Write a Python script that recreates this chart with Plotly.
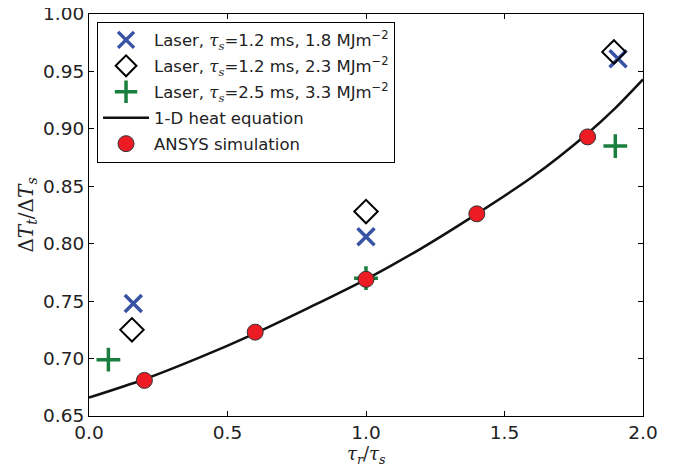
import plotly.graph_objects as go

# ---- data ----
curve_x = [0.0, 0.2, 0.4, 0.6, 0.8, 1.0, 1.2, 1.4, 1.6, 1.8, 1.9, 2.0]
curve_y = [0.666, 0.682, 0.701, 0.722, 0.745, 0.769, 0.796, 0.826, 0.858, 0.896, 0.918, 0.943]

ansys_x = [0.2, 0.6, 1.0, 1.4, 1.8]
ansys_y = [0.681, 0.723, 0.769, 0.826, 0.893]

laser18_x = [0.16, 1.0, 1.91]
laser18_y = [0.748, 0.806, 0.961]

laser23_x = [0.155, 1.0, 1.895]
laser23_y = [0.725, 0.828, 0.967]

laser33_x = [0.07, 1.0, 1.90]
laser33_y = [0.699, 0.770, 0.885]

x_ticks = [0.0, 0.5, 1.0, 1.5, 2.0]
y_ticks = [0.65, 0.70, 0.75, 0.80, 0.85, 0.90, 0.95, 1.00]

BLUE = "#3953a4"
GREEN = "#1a7f3e"
RED = "#ed1c24"

tau = '<span style="font-family:DejaVu Serif"><i>τ</i></span>'
sub_s = '<sub><span style="font-family:DejaVu Serif"><i>s</i></span></sub>'

fig = go.Figure()
fig.add_trace(go.Scatter(
    x=laser18_x, y=laser18_y, mode="markers",
    name=f"Laser, {tau}{sub_s}=1.2 ms, 1.8 MJm<sup>−2</sup>",
    marker=dict(symbol="x-thin", size=17, line=dict(color=BLUE, width=3.5), color=BLUE),
    legendgroup="a"))
fig.add_trace(go.Scatter(
    x=laser23_x, y=laser23_y, mode="markers",
    name=f"Laser, {tau}{sub_s}=1.2 ms, 2.3 MJm<sup>−2</sup>",
    marker=dict(symbol="diamond-open", size=18, line=dict(color="black", width=2), color="black"),
    legendgroup="b"))
fig.add_trace(go.Scatter(
    x=laser33_x, y=laser33_y, mode="markers",
    name=f"Laser, {tau}{sub_s}=2.5 ms, 3.3 MJm<sup>−2</sup>",
    marker=dict(symbol="cross-thin", size=17, line=dict(color=GREEN, width=3.5), color=GREEN),
    legendgroup="c"))
fig.add_trace(go.Scatter(
    x=curve_x, y=curve_y, mode="lines", name="1-D heat equation",
    line=dict(color="#111111", width=2.5, shape="spline", smoothing=0.8),
    legendgroup="d"))
fig.add_trace(go.Scatter(
    x=ansys_x, y=ansys_y, mode="markers", name="ANSYS simulation",
    marker=dict(symbol="circle", size=16, color=RED, line=dict(color="#333333", width=1)),
    legendgroup="e"))

axis_common = dict(
    showgrid=False, zeroline=False, showline=True, linecolor="black", linewidth=1,
    mirror="allticks", ticks="inside", ticklen=5, tickwidth=1, tickcolor="black",
    tickfont=dict(family="DejaVu Sans", size=18.5, color="#222222"),
    automargin=False, ticklabeloverflow="allow",
)

fig.update_layout(
    width=674, height=472,
    margin=dict(l=81, r=39, t=6, b=64),
    paper_bgcolor="white", plot_bgcolor="white",
    showlegend=True,
    legend=dict(
        x=0.0145, y=0.981, xanchor="left", yanchor="top",
        bordercolor="black", borderwidth=1, bgcolor="white",
        font=dict(family="DejaVu Sans", size=16.5, color="#222222"),
        traceorder="grouped", tracegroupgap=1.5, itemwidth=46,
    ),
    xaxis=dict(
        range=[0, 2.0], tickvals=x_ticks, ticktext=[f"{v:.1f}" for v in x_ticks],
        **axis_common),
    yaxis=dict(
        range=[0.65, 1.00], tickvals=y_ticks, ticktext=[f"{v:.2f}" for v in y_ticks],
        title=dict(text='Δ<i>T</i><sub><i>t</i></sub>/Δ<i>T</i><sub><i>s</i></sub>',
                   font=dict(family="DejaVu Serif", size=20, color="#222222"), standoff=4),
        **axis_common),
    annotations=[dict(
        text='<i>τ</i><sub><i>r</i></sub>/<i>τ</i><sub><i>s</i></sub>',
        xref="paper", yref="paper", x=0.5, y=-0.097, xanchor="center", yanchor="middle",
        showarrow=False, font=dict(family="DejaVu Serif", size=18, color="#222222"))],
)

fig.write_html("out.html")
